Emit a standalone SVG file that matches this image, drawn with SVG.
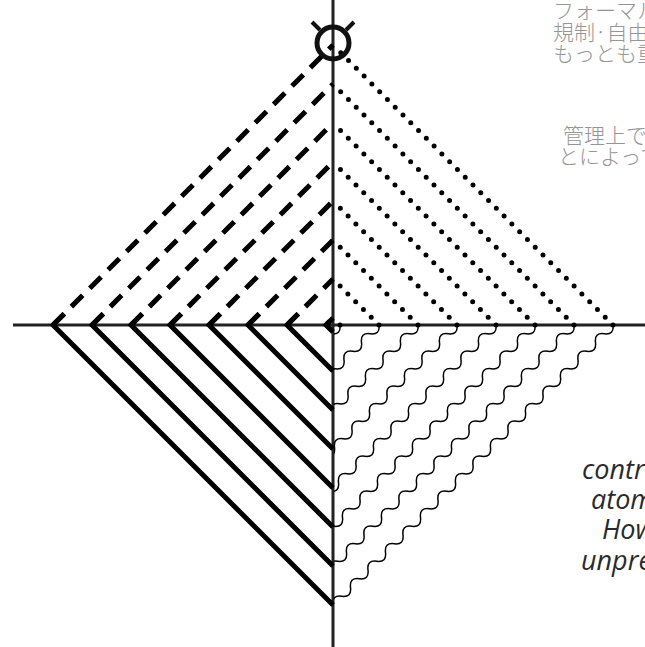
<svg xmlns="http://www.w3.org/2000/svg" xmlns:xlink="http://www.w3.org/1999/xlink" width="645" height="647" viewBox="0 0 645 647">
<style>
.axis{stroke:#222;stroke-width:3;fill:none}
.solid{stroke:#000;stroke-width:5;fill:none;stroke-linejoin:miter;stroke-miterlimit:10}
.dash{stroke:#000;stroke-width:5;fill:none;stroke-dasharray:16 10}
.dot{stroke:#000;stroke-width:5;fill:none;stroke-dasharray:0 11;stroke-linecap:round}
.wave{stroke:#000;stroke-width:1.5;fill:none}
.jp{font-family:"Noto Sans CJK JP","Noto Sans",sans-serif;font-size:21px;fill:#959595;font-weight:300}
.it{font-family:"Open Sans","Liberation Sans",sans-serif;font-style:italic;font-size:27px;fill:#2a2a2a}
</style>
<defs>
<path id="w" class="wave" d="M613,325 q1.28,10.03 -8.75,8.75 t-8.75,8.75 t-8.75,8.75 t-8.75,8.75 t-8.75,8.75 t-8.75,8.75 t-8.75,8.75 t-8.75,8.75 t-8.75,8.75 t-8.75,8.75 t-8.75,8.75 t-8.75,8.75 t-8.75,8.75 t-8.75,8.75 t-8.75,8.75 t-8.75,8.75 t-8.75,8.75 t-8.75,8.75 t-8.75,8.75 t-8.75,8.75 t-8.75,8.75 t-8.75,8.75 t-8.75,8.75 t-8.75,8.75 t-8.75,8.75 t-8.75,8.75 t-8.75,8.75 t-8.75,8.75 t-8.75,8.75 t-8.75,8.75 t-8.75,8.75 t-8.75,8.75"/>
<clipPath id="rq"><rect x="334" y="300" width="320" height="320"/></clipPath>
</defs>
<g id="axes">
<line class="axis" x1="333" y1="0" x2="333" y2="647"/>
<line class="axis" x1="13" y1="325" x2="645" y2="325"/>
</g>
<g id="connectors">
<g id="solid-lines">
<path class="solid" d="M333,605 L53,325 l11.3,-11.3"/>
<path class="solid" d="M333,566 L92,325 l11.3,-11.3"/>
<path class="solid" d="M333,527 L131,325 l11.3,-11.3"/>
<path class="solid" d="M333,488 L170,325 l11.3,-11.3"/>
<path class="solid" d="M333,449 L209,325 l11.3,-11.3"/>
<path class="solid" d="M333,410 L248,325 l11.3,-11.3"/>
<path class="solid" d="M333,371 L287,325 l11.3,-11.3"/>
<path class="solid" d="M333,332 L326,325 l3.5,-3.5"/>
</g>
<g id="dashed-lines">
<path class="dash" d="M53,325 L333,45"/>
<path class="dash" d="M92,325 L333,84"/>
<path class="dash" d="M131,325 L333,123"/>
<path class="dash" d="M170,325 L333,162"/>
<path class="dash" d="M209,325 L333,201"/>
<path class="dash" d="M248,325 L333,240"/>
<path class="dash" d="M287,325 L333,279"/>
<path class="dash" d="M326,325 L333,318"/>
</g>
<g id="dotted-lines">
<path class="dot" d="M613,325 L333,45"/>
<path class="dot" d="M574,325 L333,84"/>
<path class="dot" d="M535,325 L333,123"/>
<path class="dot" d="M496,325 L333,162"/>
<path class="dot" d="M457,325 L333,201"/>
<path class="dot" d="M418,325 L333,240"/>
<path class="dot" d="M379,325 L333,279"/>
<path class="dot" d="M340,325 L333,318"/>
</g>
<g id="wavy-lines" clip-path="url(#rq)">
<use xlink:href="#w"/>
<use xlink:href="#w" x="-39"/>
<use xlink:href="#w" x="-78"/>
<use xlink:href="#w" x="-117"/>
<use xlink:href="#w" x="-156"/>
<use xlink:href="#w" x="-195"/>
<use xlink:href="#w" x="-234"/>
<use xlink:href="#w" x="-273"/>
</g>
</g>
<g id="symbol" stroke="#111" fill="none">
<circle cx="333" cy="43" r="16" stroke-width="5"/>
<line x1="320" y1="30" x2="312" y2="22" stroke-width="4"/>
<line x1="346" y1="30" x2="354" y2="22" stroke-width="4"/>
</g>
<g id="text-jp">
<text class="jp" x="553" y="18">フォーマル</text>
<text class="jp" x="553" y="40">規制·自由</text>
<text class="jp" x="553" y="61">もっとも重</text>
<text class="jp" x="563" y="143">管理上で</text>
<text class="jp" x="558" y="164">とによって</text>
</g>
<g id="text-en">
<text class="it" x="582" y="479">control</text>
<text class="it" x="591" y="509">atomic</text>
<text class="it" x="602" y="539">How</text>
<text class="it" x="581" y="570">unpredictable</text>
</g>
</svg>
